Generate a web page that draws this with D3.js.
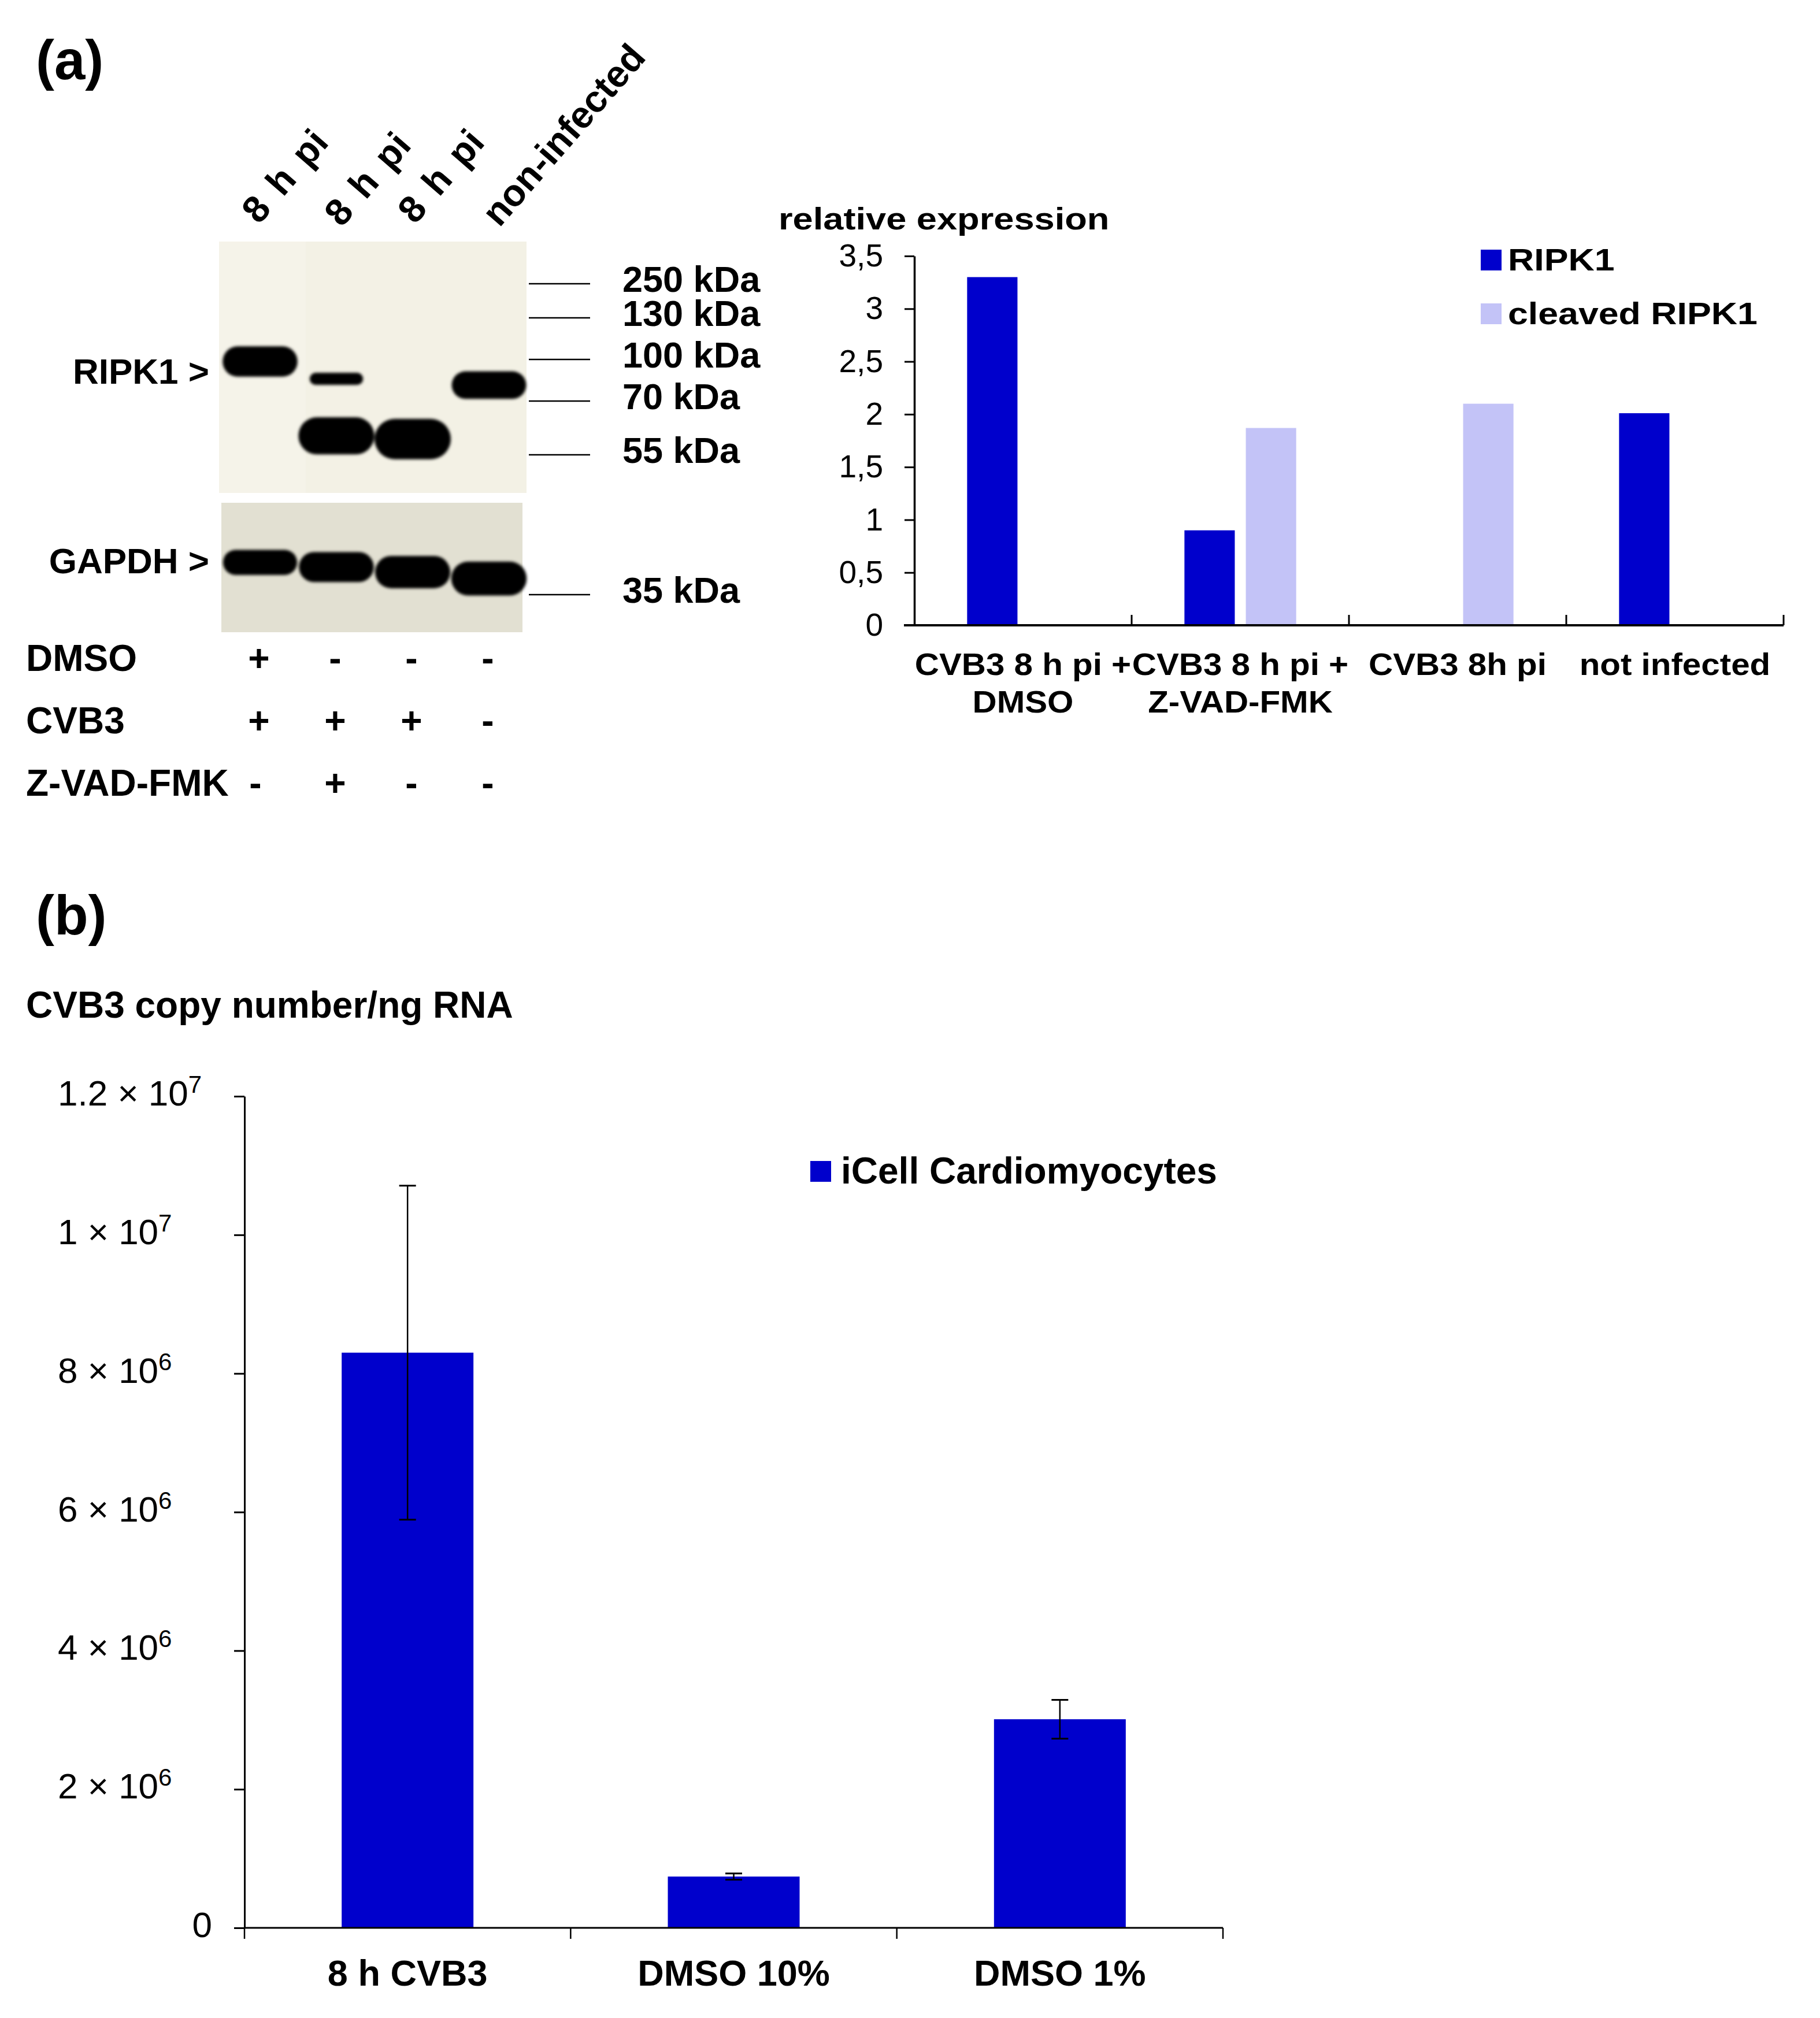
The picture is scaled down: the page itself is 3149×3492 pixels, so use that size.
<!DOCTYPE html>
<html><head><meta charset="utf-8">
<script src="https://cdn.jsdelivr.net/npm/d3@7"></script>
<style>
html,body{margin:0;padding:0;background:#fff;}
svg{display:block;}
text{font-family:"Liberation Sans",Arial,Helvetica,sans-serif;fill:#000;}
</style></head><body>
<svg id="fig" width="3149" height="3492"></svg>
<script>
// ---------------- DATA ----------------
// Panel (a) – western blot
const lanes = ["lane1", "lane2", "lane3", "lane4"];
const laneLabels = ["8 h pi", "8 h pi", "8 h pi", "non-infected"];
const treatments = ["DMSO", "CVB3", "Z-VAD-FMK"];
const treatmentSigns = [["+", "-", "-", "-"], ["+", "+", "+", "-"], ["-", "+", "-", "-"]];
const markersUpper = [250, 130, 100, 70, 55];
const markersLower = [35];
const ripk1Bands = [{lane: "lane1", kda: 98.5, signal: 0.75}, {lane: "lane2", kda: 86, signal: 0.3}, {lane: "lane4", kda: 81.5, signal: 0.68}];
const cleavedBands = [{lane: "lane2", kda: 60.3, signal: 0.92}, {lane: "lane3", kda: 59.4, signal: 1.0}];
const gapdhBands = [{lane: "lane1", kda: 44, signal: 0.62}, {lane: "lane2", kda: 42.7, signal: 0.74}, {lane: "lane3", kda: 41.3, signal: 0.8}, {lane: "lane4", kda: 39.5, signal: 0.84}];

// Panel (a) – relative expression bar chart
const relCategories = [["CVB3 8 h pi +", "DMSO"], ["CVB3 8 h pi +", "Z-VAD-FMK"], ["CVB3 8h pi"], ["not infected"]];
const relSeries = ["RIPK1", "cleaved RIPK1"];
const relRIPK1 = [3.3, 0.9, 0, 2.01];
const relCleaved = [0, 1.87, 2.1, 0];
const relTicks = [0, 0.5, 1, 1.5, 2, 2.5, 3, 3.5];

// Panel (b) – CVB3 copy number
const cvbCategories = ["8 h CVB3", "DMSO 10%", "DMSO 1%"];
const cvbSeries = ["iCell Cardiomyocytes"];
const cvbMeans = [8.3e6, 0.74e6, 3.01e6];
const cvbErrors = [2.41e6, 0.045e6, 0.28e6];
const cvbTicks = [0, 2e6, 4e6, 6e6, 8e6, 1e7, 1.2e7];

// ---------------- DRAW ----------------
const svg = d3.select("#fig");
const FONT = '"Liberation Sans",Arial,Helvetica,sans-serif';
const BLUE = "#0000cc", LIGHT = "#c3c3f7";

function stretch(sel, k) {
  sel.each(function () {
    const L = this.getComputedTextLength();
    this.setAttribute("textLength", L * k);
    this.setAttribute("lengthAdjust", "spacingAndGlyphs");
  });
}

// blur filter for blot bands
const defs = svg.append("defs");
defs.append("filter").attr("id", "soft").attr("x", "-20%").attr("y", "-50%").attr("width", "140%").attr("height", "200%")
  .append("feGaussianBlur").attr("stdDeviation", 2.6);

// panel labels
svg.append("text").attr("x", 62).attr("y", 137).attr("font-size", 96).attr("font-weight", "bold").text("(a)");
svg.append("text").attr("x", 62).attr("y", 1617).attr("font-size", 96).attr("font-weight", "bold").text("(b)");

// ---- Western blot ----
const blot = svg.append("g");
const laneScale = d3.scaleBand().domain(lanes).range([384, 912]);
const kdaUpper = d3.scaleLinear().domain(markersUpper).range([491, 550, 622, 694, 787]);
const kdaLower = d3.scaleLinear().domain([35, 45]).range([1029, 967]);
const bandH = d3.scaleLinear().domain([0, 1]).range([0, 70]);
const bandW = d3.scaleLinear().domain([0.3, 0.6, 1]).range([0.7, 0.97, 1.0]).clamp(true);

blot.append("rect").attr("x", 379).attr("y", 418).attr("width", 532).attr("height", 435).attr("fill", "#f3f1e5");
blot.append("rect").attr("x", 379).attr("y", 418).attr("width", 150).attr("height", 435).attr("fill", "#f5f3e9");
blot.append("rect").attr("x", 383).attr("y", 870).attr("width", 521).attr("height", 224).attr("fill", "#e2e0d2");

function drawBands(data, yScale) {
  blot.append("g").attr("filter", "url(#soft)").selectAll("rect").data(data).join("rect")
    .attr("x", d => laneScale(d.lane) + laneScale.bandwidth() / 2 - laneScale.bandwidth() * bandW(d.signal) / 2)
    .attr("width", d => laneScale.bandwidth() * bandW(d.signal))
    .attr("y", d => yScale(d.kda) - bandH(d.signal) / 2)
    .attr("height", d => bandH(d.signal))
    .attr("rx", d => bandH(d.signal) / 2)
    .attr("fill", "#050505");
}
drawBands(ripk1Bands, kdaUpper);
drawBands(cleavedBands, kdaUpper);
drawBands(gapdhBands, kdaLower);

// markers
const mk = [...markersUpper.map(m => ({m, y: kdaUpper(m)})), ...markersLower.map(m => ({m, y: kdaLower(m)}))];
blot.selectAll("line.mk").data(mk).join("line").attr("class", "mk")
  .attr("x1", 915).attr("x2", 1021).attr("y1", d => d.y).attr("y2", d => d.y)
  .attr("stroke", "#000").attr("stroke-width", 2.5);
blot.selectAll("text.mk").data(mk).join("text").attr("class", "mk")
  .attr("x", 1077).attr("y", d => d.y + 14).attr("font-size", 63).attr("font-weight", "bold")
  .text(d => d.m + " kDa");

// protein labels
blot.append("text").attr("x", 362).attr("y", 664).attr("text-anchor", "end").attr("font-size", 62).attr("font-weight", "bold").text("RIPK1 >");
blot.append("text").attr("x", 362).attr("y", 992).attr("text-anchor", "end").attr("font-size", 62).attr("font-weight", "bold").text("GAPDH >");

// lane labels (rotated)
const laneLabelShift = [-2, 9, 4, 18];
blot.selectAll("text.lane").data(lanes).join("text").attr("class", "lane")
  .attr("transform", (d, i) => `translate(${laneScale(d) + laneScale.bandwidth() / 2 + laneLabelShift[i]},${i % 2 ? 395 : 390}) rotate(-49)`)
  .attr("font-size", 65).attr("font-weight", "bold")
  .attr("word-spacing", (d, i) => i < 3 ? 9 : 0)
  .text((d, i) => laneLabels[i]);

// treatment table
const rowY = d3.scaleBand().domain(treatments).range([1103, 1427]);
treatments.forEach((t, r) => {
  const yb = rowY(t) + rowY.bandwidth() / 2 + 4;
  blot.append("text").attr("x", 45).attr("y", yb).attr("font-size", 64).attr("font-weight", "bold").text(t);
  blot.selectAll(null).data(treatmentSigns[r]).join("text")
    .attr("x", (d, i) => laneScale(lanes[i]) + laneScale.bandwidth() / 2 - (r === 2 && i === 0 ? 8 : 2))
    .attr("y", yb).attr("text-anchor", "middle").attr("font-size", 64).attr("font-weight", "bold").text(d => d);
});

// ---- Relative expression chart ----
const rel = svg.append("g");
const xRel = d3.scaleBand().domain(d3.range(relCategories.length)).range([1582, 3086]).padding(0);
const xRelIn = d3.scaleBand().domain(relSeries).range([0, xRel.bandwidth()]).paddingInner(0.18).paddingOuter(0.86);
const yRel = d3.scaleLinear().domain([0, 3.5]).range([1082, 443]);
const relColor = d3.scaleOrdinal().domain(relSeries).range([BLUE, LIGHT]);
const commaFmt = d3.formatLocale({decimal: ",", thousands: ".", grouping: [3], currency: ["", ""]}).format("~g");

const relData = relCategories.map((c, i) => ({i, vals: [{s: relSeries[0], v: relRIPK1[i]}, {s: relSeries[1], v: relCleaved[i]}]}));
rel.selectAll("g.cat").data(relData).join("g").attr("class", "cat")
  .attr("transform", d => `translate(${xRel(d.i)},0)`)
  .selectAll("rect").data(d => d.vals.filter(v => v.v > 0)).join("rect")
  .attr("x", d => xRelIn(d.s)).attr("width", xRelIn.bandwidth())
  .attr("y", d => yRel(d.v)).attr("height", d => yRel(0) - yRel(d.v))
  .attr("fill", d => relColor(d.s));

const yAxRel = rel.append("g").attr("transform", "translate(1582,0)")
  .call(d3.axisLeft(yRel).tickValues(relTicks).tickSize(17).tickSizeOuter(0).tickPadding(37).tickFormat(commaFmt));
yAxRel.select(".domain").attr("stroke", "#000").attr("stroke-width", 3.5);
yAxRel.selectAll(".tick line").attr("stroke", "#000").attr("stroke-width", 3);
yAxRel.selectAll(".tick text").attr("font-size", 55).attr("font-family", FONT).attr("fill", "#000");

// x axis
rel.append("line").attr("x1", 1564).attr("x2", xRel.range()[1]).attr("y1", yRel(0)).attr("y2", yRel(0))
  .attr("stroke", "#000").attr("stroke-width", 4);
rel.selectAll("line.xt").data(xRel.domain()).join("line").attr("class", "xt")
  .attr("x1", d => xRel(d) + xRel.bandwidth()).attr("x2", d => xRel(d) + xRel.bandwidth())
  .attr("y1", yRel(0)).attr("y2", yRel(0) - 18).attr("stroke", "#000").attr("stroke-width", 3);

// x labels
relCategories.forEach((lines, i) => {
  lines.forEach((ln, j) => {
    rel.append("text").attr("x", xRel(i) + xRel.bandwidth() / 2).attr("y", 1168 + j * 65)
      .attr("text-anchor", "middle").attr("font-size", 54).attr("font-weight", "bold").text(ln)
      .call(stretch, 1.08);
  });
});

// title
rel.append("text").attr("x", 1347).attr("y", 397).attr("font-size", 54).attr("font-weight", "bold")
  .text("relative expression").call(stretch, 1.17);

// legend
const legRel = rel.append("g");
relSeries.forEach((s, i) => {
  const yb = 468 + i * 93;
  legRel.append("rect").attr("x", 2562).attr("y", yb - 36).attr("width", 36).attr("height", 36).attr("fill", relColor(s));
  legRel.append("text").attr("x", 2609).attr("y", yb).attr("font-size", 54).attr("font-weight", "bold").text(s).call(stretch, 1.16);
});

// ---- Panel (b) ----
const pb = svg.append("g");
const xCvb = d3.scaleBand().domain(cvbCategories).range([423, 2116]).padding(0);
const yCvb = d3.scaleLinear().domain([0, 1.2e7]).range([3336, 1897]);
const barW = xCvb.bandwidth() * 0.404;

pb.append("text").attr("x", 45).attr("y", 1761).attr("font-size", 64).attr("font-weight", "bold").text("CVB3 copy number/ng RNA");

const cvbData = cvbCategories.map((c, i) => ({c, m: cvbMeans[i], e: cvbErrors[i]}));
pb.selectAll("rect.bar").data(cvbData).join("rect").attr("class", "bar")
  .attr("x", d => xCvb(d.c) + xCvb.bandwidth() / 2 - barW / 2).attr("width", barW)
  .attr("y", d => yCvb(d.m)).attr("height", d => yCvb(0) - yCvb(d.m)).attr("fill", BLUE);

// error bars
const eb = pb.selectAll("g.eb").data(cvbData).join("g").attr("class", "eb")
  .attr("transform", d => `translate(${xCvb(d.c) + xCvb.bandwidth() / 2},0)`);
eb.append("line").attr("y1", d => yCvb(d.m - d.e)).attr("y2", d => yCvb(d.m + d.e)).attr("stroke", "#000").attr("stroke-width", 2.5);
eb.append("line").attr("x1", -14.5).attr("x2", 14.5).attr("y1", d => yCvb(d.m + d.e)).attr("y2", d => yCvb(d.m + d.e)).attr("stroke", "#000").attr("stroke-width", 3);
eb.append("line").attr("x1", -14.5).attr("x2", 14.5).attr("y1", d => yCvb(d.m - d.e)).attr("y2", d => yCvb(d.m - d.e)).attr("stroke", "#000").attr("stroke-width", 3);

// y axis
const yAxB = pb.append("g").attr("transform", "translate(423,0)")
  .call(d3.axisLeft(yCvb).tickValues(cvbTicks).tickSize(18).tickSizeOuter(0).tickFormat(""));
yAxB.select(".domain").attr("stroke", "#000").attr("stroke-width", 3);
yAxB.selectAll(".tick line").attr("stroke", "#000").attr("stroke-width", 3);

// y tick labels in scientific notation
cvbTicks.forEach(v => {
  const yb = yCvb(v) + 16;
  if (v === 0) {
    pb.append("text").attr("x", 367).attr("y", yb).attr("text-anchor", "end").attr("font-size", 62).text("0");
  } else {
    const ex = Math.floor(Math.log10(v));
    const mant = +(v / Math.pow(10, ex)).toFixed(2);
    const t = pb.append("text").attr("x", 100).attr("y", yb).attr("font-size", 62);
    t.append("tspan").text(`${mant} \u00d7 10`);
    t.append("tspan").attr("font-size", 42).attr("dy", -22).text(ex);
  }
});

// x axis
pb.append("line").attr("x1", 423).attr("x2", 2116).attr("y1", yCvb(0)).attr("y2", yCvb(0)).attr("stroke", "#000").attr("stroke-width", 3);
const bounds = [xCvb.range()[0], ...cvbCategories.map(c => xCvb(c) + xCvb.bandwidth())];
pb.selectAll("line.xt").data(bounds).join("line").attr("class", "xt")
  .attr("x1", d => d).attr("x2", d => d).attr("y1", yCvb(0)).attr("y2", yCvb(0) + 19)
  .attr("stroke", "#000").attr("stroke-width", 2.5);

pb.selectAll("text.xl").data(cvbCategories).join("text").attr("class", "xl")
  .attr("x", d => xCvb(d) + xCvb.bandwidth() / 2).attr("y", 3436)
  .attr("text-anchor", "middle").attr("font-size", 63).attr("font-weight", "bold").text(d => d);

// legend (b)
pb.append("rect").attr("x", 1402).attr("y", 2009).attr("width", 36).attr("height", 36).attr("fill", BLUE);
pb.append("text").attr("x", 1455).attr("y", 2048).attr("font-size", 64).attr("font-weight", "bold").text(cvbSeries[0]);
</script>
</body></html>
